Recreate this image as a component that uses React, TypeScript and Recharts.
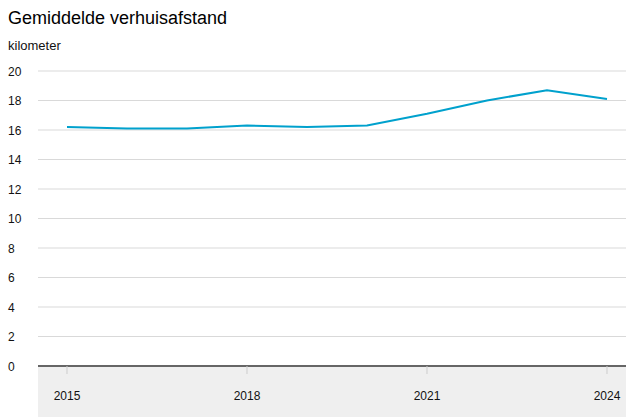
import React from 'react';
import { LineChart, Line, XAxis, YAxis, CartesianGrid } from 'recharts';

const years = [2015, 2016, 2017, 2018, 2019, 2020, 2021, 2022, 2023, 2024];
const distance = [16.2, 16.1, 16.1, 16.3, 16.2, 16.3, 17.1, 18.0, 18.7, 18.1];
const yTicks = [0, 2, 4, 6, 8, 10, 12, 14, 16, 18, 20];
const xTicks = [2015, 2018, 2021, 2024];

const data = years.map((year, i) => ({ year, distance: distance[i] }));

const FONT = '"Liberation Sans", Arial, sans-serif';

const YTick = ({ y, payload }: any) => (
  <text x={8} y={y + 4.5} textAnchor="start" fontSize={12} fill="#111" fontFamily={FONT}>
    {payload.value}
  </text>
);

const XTick = ({ x, y, payload }: any) => (
  <text x={x} y={y + 24} textAnchor="middle" fontSize={12} fill="#111" fontFamily={FONT}>
    {payload.value}
  </text>
);

export default function App() {
  return (
    <div
      style={{
        position: 'absolute',
        left: 0,
        top: 0,
        width: 626,
        height: 417,
        overflow: 'hidden',
        background: '#fff',
        fontFamily: FONT,
      }}
    >
      {/* grey band under the x axis */}
      <div style={{ position: 'absolute', left: 38, top: 366, width: 588, height: 51, background: '#efefef' }} />
      <div style={{ position: 'absolute', left: 8, top: 7, fontSize: 18, color: '#000', lineHeight: '22px' }}>
        Gemiddelde verhuisafstand
      </div>
      <div style={{ position: 'absolute', left: 8, top: 38, fontSize: 13, color: '#111', lineHeight: '16px' }}>
        kilometer
      </div>
      <div style={{ position: 'absolute', left: 0, top: 0 }}>
        <LineChart width={626} height={417} data={data} margin={{ top: 71, right: 0, bottom: 0, left: 0 }}>
          <CartesianGrid vertical={false} stroke="#d9d9d9" />
          <XAxis
            type="number"
            dataKey="year"
            domain={[2014.5167, 2024.3167]}
            ticks={xTicks}
            height={51}
            axisLine={{ stroke: '#666', strokeWidth: 2 }}
            tickLine={{ stroke: '#ccc' }}
            tickSize={8}
            tick={<XTick />}
          />
          <YAxis
            domain={[0, 20]}
            ticks={yTicks}
            width={38}
            axisLine={false}
            tickLine={false}
            tick={<YTick />}
          />
          <Line
            type="linear"
            dataKey="distance"
            stroke="#00a1cd"
            strokeWidth={2}
            dot={false}
            isAnimationActive={false}
          />
        </LineChart>
      </div>
    </div>
  );
}
